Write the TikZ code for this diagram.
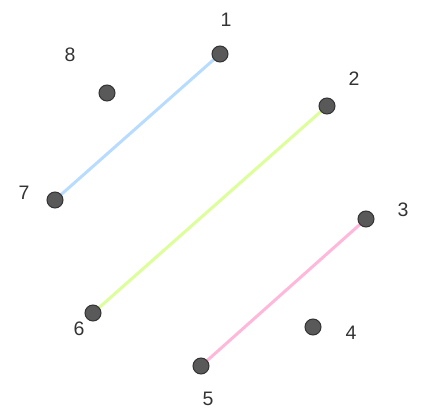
\documentclass[tikz,border=0pt]{standalone}
\usepackage{fontspec}
\setmainfont{Liberation Sans}
\definecolor{lblue}{HTML}{B8DCFF}
\definecolor{lgreen}{HTML}{DDFF99}
\definecolor{lpink}{HTML}{FFB8DA}
\definecolor{dotfill}{HTML}{595959}
\definecolor{dotedge}{HTML}{333333}
\definecolor{txt}{HTML}{333333}
\begin{document}
\begin{tikzpicture}[x=1pt,y=-1pt,
  dot/.style={circle,fill=dotfill,draw=dotedge,line width=1pt,minimum size=16pt,inner sep=0pt},
  lbl/.style={text=txt,font=\fontsize{19.5}{22}\selectfont,inner sep=0pt},
  link/.style={line width=3pt}]
\useasboundingbox (0,0) rectangle (424,408);
\node[lbl] (l1) at (226,20) {1};
\node[lbl] (l2) at (354,79) {2};
\node[lbl] (l3) at (403,210) {3};
\node[lbl] (l4) at (351,333) {4};
\node[lbl] (l5) at (208,399) {5};
\node[lbl] (l6) at (79,329) {6};
\node[lbl] (l7) at (24,193) {7};
\node[lbl] (l8) at (70,55) {8};
\coordinate (c1) at (220,54);
\coordinate (c2) at (327,106);
\coordinate (c3) at (366,219);
\coordinate (c4) at (313,327);
\coordinate (c5) at (201,366);
\coordinate (c6) at (93,313);
\coordinate (c7) at (55,200);
\coordinate (c8) at (107,93);
\draw[link,lblue] (c1) -- (c7);
\draw[link,lgreen] (c2) -- (c6);
\draw[link,lpink] (c3) -- (c5);
\foreach \i in {1,...,8} {\node[dot] (p\i) at (c\i) {};}
\end{tikzpicture}
\end{document}
